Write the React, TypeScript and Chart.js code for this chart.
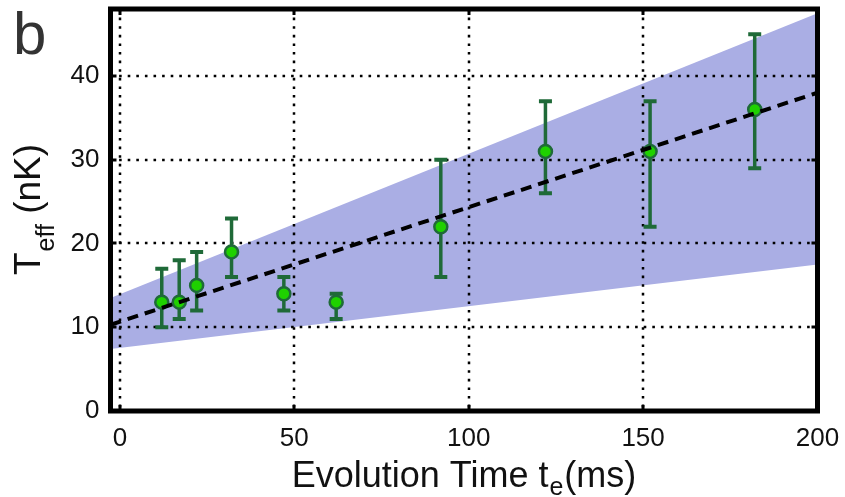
import React, { useEffect, useRef } from "react";
import { Chart, registerables } from "chart.js";

Chart.register(...registerables);

// Data
const timeMs = [12, 17, 22, 32, 47, 62, 92, 122, 152, 182];
const tEff = [13, 13, 15, 19, 14, 13, 22, 31, 31, 36];
const errLow = [10, 11, 12, 16, 12, 11, 16, 26, 22, 29];
const errHigh = [17, 18, 19, 23, 16, 14, 30, 37, 37, 45];
const fitX = [-2.7, 200];
const fitY = [10.3, 38.0];
const bandLower = [7.4, 17.5];
const bandUpper = [13.5, 47.5];
const xTicks = [0, 50, 100, 150, 200];
const yTicks = [0, 10, 20, 30, 40];

const FONT = "'Liberation Sans', Arial, Helvetica, sans-serif";
const GREEN_DARK = "#1f6a38";
const GREEN_FILL = "#1fd100";
const BAND = "rgb(170,174,228)";

const customPlugin = {
  id: "custom",
  afterDatasetDraw(chart: any, args: any) {
    if (args.index !== 1) return;
    const { ctx, chartArea } = chart;
    const xs = chart.scales.x;
    const ys = chart.scales.y;
    ctx.save();
    ctx.strokeStyle = "#000";
    ctx.lineWidth = 2.5;
    ctx.setLineDash([2.6, 6]);
    xTicks.forEach((v) => {
      const px = Math.round(xs.getPixelForValue(v));
      if (px <= chartArea.left + 3 || px >= chartArea.right - 3) return;
      ctx.beginPath();
      ctx.moveTo(px, chartArea.top);
      ctx.lineTo(px, chartArea.bottom);
      ctx.stroke();
    });
    yTicks.forEach((v) => {
      const py = Math.round(ys.getPixelForValue(v));
      if (py <= chartArea.top + 3 || py >= chartArea.bottom - 3) return;
      ctx.beginPath();
      ctx.moveTo(chartArea.left, py);
      ctx.lineTo(chartArea.right, py);
      ctx.stroke();
    });
    ctx.restore();
  },
  beforeDatasetDraw(chart: any, args: any) {
    if (args.index !== 2) return;
    const { ctx } = chart;
    const xs = chart.scales.x;
    const ys = chart.scales.y;
    ctx.save();
    ctx.strokeStyle = GREEN_DARK;
    ctx.setLineDash([]);
    timeMs.forEach((t, i) => {
      const px = xs.getPixelForValue(t);
      const lo = ys.getPixelForValue(errLow[i]);
      const hi = ys.getPixelForValue(errHigh[i]);
      ctx.lineWidth = 3.5;
      ctx.beginPath();
      ctx.moveTo(px, lo);
      ctx.lineTo(px, hi);
      ctx.stroke();
      ctx.lineWidth = 4;
      ctx.beginPath();
      ctx.moveTo(px - 6.5, lo);
      ctx.lineTo(px + 6.5, lo);
      ctx.moveTo(px - 6.5, hi);
      ctx.lineTo(px + 6.5, hi);
      ctx.stroke();
    });
    ctx.restore();
  },
  afterDraw(chart: any) {
    const { ctx, chartArea } = chart;
    const xs = chart.scales.x;
    const ys = chart.scales.y;
    ctx.save();
    // inward tick marks
    ctx.strokeStyle = "#000";
    ctx.lineWidth = 3;
    ctx.setLineDash([]);
    xTicks.forEach((v) => {
      const px = Math.round(xs.getPixelForValue(v));
      ctx.beginPath();
      ctx.moveTo(px, chartArea.bottom);
      ctx.lineTo(px, chartArea.bottom - 6);
      ctx.moveTo(px, chartArea.top);
      ctx.lineTo(px, chartArea.top + 6);
      ctx.stroke();
    });
    yTicks.forEach((v) => {
      const py = Math.round(ys.getPixelForValue(v));
      ctx.beginPath();
      ctx.moveTo(chartArea.left, py);
      ctx.lineTo(chartArea.left + 6, py);
      ctx.moveTo(chartArea.right, py);
      ctx.lineTo(chartArea.right - 6, py);
      ctx.stroke();
    });
    // frame
    ctx.lineWidth = 5;
    ctx.strokeRect(
      chartArea.left,
      chartArea.top,
      chartArea.right - chartArea.left,
      chartArea.bottom - chartArea.top
    );

    // x title with subscript
    ctx.fillStyle = "#111";
    ctx.textBaseline = "alphabetic";
    ctx.textAlign = "left";
    const mainX = "Evolution Time t";
    const subX = "e";
    const endX = "(ms)";
    ctx.font = `36px ${FONT}`;
    const w1 = ctx.measureText(mainX).width;
    const w3 = ctx.measureText(endX).width;
    ctx.font = `25px ${FONT}`;
    const w2 = ctx.measureText(subX).width;
    const total = w1 + w2 + w3 + 2;
    const x0 = (chartArea.left + chartArea.right) / 2 - total / 2;
    const base = 487;
    ctx.font = `36px ${FONT}`;
    ctx.fillText(mainX, x0, base);
    ctx.font = `25px ${FONT}`;
    ctx.fillText(subX, x0 + w1 + 1, base + 8);
    ctx.font = `36px ${FONT}`;
    ctx.fillText(endX, x0 + w1 + w2 + 2, base);

    // y title with subscript (rotated)
    const mainY = "T";
    const subY = "eff";
    const endY = " (nK)";
    ctx.font = `37px ${FONT}`;
    const v1 = ctx.measureText(mainY).width;
    const v3 = ctx.measureText(endY).width;
    ctx.font = `25px ${FONT}`;
    const v2 = ctx.measureText(subY).width;
    const totalY = v1 + v2 + v3;
    const cy = (chartArea.top + chartArea.bottom) / 2;
    ctx.translate(40, cy + totalY / 2);
    ctx.rotate(-Math.PI / 2);
    ctx.font = `37px ${FONT}`;
    ctx.fillText(mainY, 0, 0);
    ctx.font = `25px ${FONT}`;
    ctx.fillText(subY, v1 + 1, 14);
    ctx.font = `37px ${FONT}`;
    ctx.fillText(endY, v1 + v2 + 1, 0);
    ctx.setTransform(1, 0, 0, 1, 0, 0);

    // panel label
    ctx.font = `60px ${FONT}`;
    ctx.fillStyle = "#333";
    ctx.fillText("b", 13, 54);
    ctx.restore();
  },
};

const zeroPad = (s: any) => {
  s.paddingTop = 0;
  s.paddingBottom = 0;
  s.paddingLeft = 0;
  s.paddingRight = 0;
};

export default function App() {
  const ref = useRef<HTMLCanvasElement | null>(null);

  useEffect(() => {
    if (!ref.current) return;
    const chart = new Chart(ref.current, {
      type: "scatter",
      data: {
        datasets: [
          {
            label: "band lower",
            data: fitX.map((x, i) => ({ x, y: bandLower[i] })),
            showLine: true,
            borderWidth: 0,
            borderColor: "rgba(0,0,0,0)",
            pointRadius: 0,
            fill: false,
            order: 11,
          },
          {
            label: "band upper",
            data: fitX.map((x, i) => ({ x, y: bandUpper[i] })),
            showLine: true,
            borderWidth: 0,
            borderColor: "rgba(0,0,0,0)",
            backgroundColor: BAND,
            pointRadius: 0,
            fill: "-1",
            order: 10,
          },
          {
            label: "T_eff",
            data: timeMs.map((x, i) => ({ x, y: tEff[i] })),
            showLine: false,
            pointRadius: 6.5,
            pointBorderWidth: 2.5,
            pointBackgroundColor: GREEN_FILL,
            pointBorderColor: GREEN_DARK,
            order: 2,
          },
          {
            label: "fit",
            data: fitX.map((x, i) => ({ x, y: fitY[i] })),
            showLine: true,
            borderColor: "#000",
            borderWidth: 4,
            borderDash: [11, 7],
            pointRadius: 0,
            fill: false,
            order: 1,
          },
        ],
      },
      options: {
        animation: false,
        responsive: false,
        devicePixelRatio: 1,
        layout: { padding: { left: 0, right: 27.5, top: 8.5, bottom: 0 } },
        plugins: {
          legend: { display: false },
          tooltip: { enabled: false },
        },
        scales: {
          x: {
            type: "linear",
            min: -2.7,
            max: 200,
            grid: { display: false, drawTicks: false },
            border: { display: false },
            afterBuildTicks: (s: any) => {
              s.ticks = xTicks.map((v) => ({ value: v }));
            },
            afterFit: (s: any) => {
              s.height = 86;
              zeroPad(s);
            },
            ticks: {
              color: "#111",
              font: { family: FONT, size: 26 },
              padding: 12,
              maxRotation: 0,
              autoSkip: false,
            },
          },
          y: {
            type: "linear",
            min: 0,
            max: 48,
            grid: { display: false, drawTicks: false },
            border: { display: false },
            afterBuildTicks: (s: any) => {
              s.ticks = yTicks.map((v) => ({ value: v }));
            },
            afterFit: (s: any) => {
              s.width = 110.5;
              zeroPad(s);
            },
            ticks: {
              color: "#111",
              font: { family: FONT, size: 26 },
              padding: 11,
              autoSkip: false,
            },
          },
        },
      },
      plugins: [customPlugin],
    });
    return () => chart.destroy();
  }, []);

  return (
    <div
      style={{
        position: "fixed",
        left: 0,
        top: 0,
        width: 845,
        height: 497,
        background: "#fff",
      }}
    >
      <canvas ref={ref} width={845} height={497} />
    </div>
  );
}
